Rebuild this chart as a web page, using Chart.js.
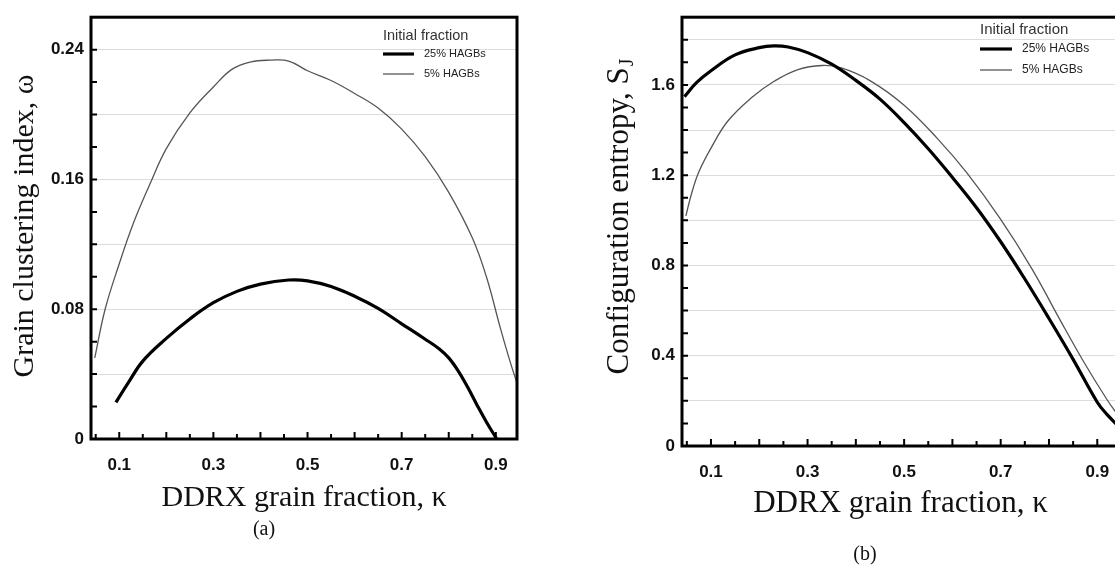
<!DOCTYPE html>
<html>
<head>
<meta charset="utf-8">
<script src="https://cdn.jsdelivr.net/npm/chart.js"></script>
<style>
  html, body { margin: 0; padding: 0; background: #fff; overflow: hidden; width: 1115px; height: 569px; }
  .panel { position: absolute; top: 0; }
  #wrapA { left: 0; }
  #wrapB { left: 580px; }
</style>
</head>
<body>
<div class="panel" id="wrapA"><canvas id="chartA" width="560" height="569"></canvas></div>
<div class="panel" id="wrapB"><canvas id="chartB" width="560" height="569"></canvas></div>
<script>
// (a) grain clustering index vs DDRX grain fraction
const fracA25 = [0.093, 0.12, 0.15, 0.20, 0.25, 0.30, 0.35, 0.40, 0.46, 0.50, 0.55, 0.60, 0.65, 0.70, 0.75, 0.78, 0.80, 0.82, 0.84, 0.86, 0.88, 0.902];
const omega25 = [0.0226, 0.035, 0.048, 0.062, 0.074, 0.084, 0.091, 0.0955, 0.098, 0.0975, 0.094, 0.088, 0.0805, 0.071, 0.0615, 0.0555, 0.050, 0.042, 0.032, 0.021, 0.0105, 0];
const fracA5 = [0.048, 0.07, 0.10, 0.13, 0.165, 0.20, 0.25, 0.30, 0.34, 0.38, 0.42, 0.46, 0.50, 0.55, 0.60, 0.65, 0.70, 0.75, 0.80, 0.85, 0.88, 0.91, 0.93, 0.95];
const omega5 = [0.050, 0.080, 0.108, 0.133, 0.157, 0.179, 0.201, 0.217, 0.228, 0.2325, 0.2335, 0.233, 0.227, 0.221, 0.213, 0.204, 0.191, 0.174, 0.152, 0.124, 0.100, 0.068, 0.048, 0.030];

// (b) configuration entropy vs DDRX grain fraction
const fracB25 = [0.045, 0.07, 0.10, 0.15, 0.20, 0.23, 0.26, 0.30, 0.35, 0.40, 0.45, 0.50, 0.55, 0.60, 0.65, 0.70, 0.75, 0.80, 0.85, 0.90, 0.92, 0.945];
const entropy25 = [1.548, 1.61, 1.663, 1.733, 1.765, 1.773, 1.768, 1.743, 1.692, 1.62, 1.537, 1.433, 1.317, 1.19, 1.056, 0.905, 0.74, 0.565, 0.384, 0.194, 0.14, 0.085];
const fracB5 = [0.048, 0.06, 0.075, 0.10, 0.135, 0.185, 0.23, 0.28, 0.33, 0.37, 0.43, 0.50, 0.57, 0.63, 0.70, 0.765, 0.82, 0.87, 0.92, 0.945];
const entropy5 = [1.02, 1.12, 1.215, 1.32, 1.44, 1.545, 1.615, 1.668, 1.686, 1.675, 1.618, 1.51, 1.36, 1.21, 1.004, 0.784, 0.57, 0.38, 0.206, 0.13];

// ticks
const xLabels = [0.1, 0.3, 0.5, 0.7, 0.9];
const xMajor = [0.1, 0.2, 0.3, 0.4, 0.5, 0.6, 0.7, 0.8, 0.9];
const xMinor = [0.05, 0.15, 0.25, 0.35, 0.45, 0.55, 0.65, 0.75, 0.85];
const gridA = [0, 0.04, 0.08, 0.12, 0.16, 0.2, 0.24];
const labelsA = [0, 0.08, 0.16, 0.24];
const minorA = [0.02, 0.06, 0.1, 0.14, 0.18, 0.22];
const gridB = [0, 0.2, 0.4, 0.6, 0.8, 1.0, 1.2, 1.4, 1.6, 1.8];
const labelsB = [0, 0.4, 0.8, 1.2, 1.6];
const minorB = [0.1, 0.3, 0.5, 0.7, 0.9, 1.1, 1.3, 1.5, 1.7];

const legendTitle = "Initial fraction";
const seriesNames = ["25% HAGBs", "5% HAGBs"];

const zip = (xs, ys) => xs.map((x, i) => ({ x: x, y: ys[i] }));

const decoPlugin = {
  id: 'deco',
  afterDraw(chart, args, o) {
    const { ctx, chartArea: a, scales: { x, y } } = chart;
    ctx.save();
    ctx.strokeStyle = '#000';
    ctx.lineWidth = 2;
    ctx.beginPath();
    xMajor.forEach(v => { const p = x.getPixelForValue(v); ctx.moveTo(p, a.bottom); ctx.lineTo(p, a.bottom - 7); });
    xMinor.forEach(v => { const p = x.getPixelForValue(v); ctx.moveTo(p, a.bottom); ctx.lineTo(p, a.bottom - 5); });
    o.yTicks.concat(o.yMinor).forEach(v => { const p = y.getPixelForValue(v); ctx.moveTo(a.left, p); ctx.lineTo(a.left + 6, p); });
    ctx.stroke();

    ctx.lineWidth = 3;
    ctx.strokeRect(a.left, a.top, a.right - a.left, a.bottom - a.top);

    // legend
    const L = o.legend;
    ctx.font = L.titleSize + 'px "Liberation Sans", Arial, sans-serif';
    ctx.textBaseline = 'middle';
    ctx.textAlign = 'left';
    const tw = ctx.measureText(legendTitle).width;
    if (L.bg) { ctx.fillStyle = '#fff'; ctx.fillRect(L.x - 2, L.titleY - 9, tw + 4, 18); }
    ctx.fillStyle = '#333';
    ctx.fillText(legendTitle, L.x, L.titleY);
    [3.2, 1.3].forEach((w, i) => {
      ctx.strokeStyle = i === 0 ? '#000' : '#555';
      ctx.lineWidth = w;
      ctx.beginPath();
      ctx.moveTo(L.x, L.rows[i]); ctx.lineTo(L.x + L.len, L.rows[i]);
      ctx.stroke();
      ctx.fillStyle = '#222';
      ctx.font = L.textSize + 'px "Liberation Sans", Arial, sans-serif';
      ctx.fillText(seriesNames[i], L.x + L.len + 10, L.rows[i]);
    });

    // axis titles
    const serif = '"Liberation Serif", "Times New Roman", serif';
    ctx.fillStyle = '#111';
    ctx.textAlign = 'center';
    ctx.font = o.titleSize + 'px ' + serif;
    ctx.fillText("DDRX grain fraction, \u03ba", (a.left + a.right) / 2, o.xTitleY);

    ctx.save();
    ctx.translate(o.yTitleX, o.yTitleY);
    ctx.rotate(-Math.PI / 2);
    ctx.textAlign = 'left';
    const w1 = ctx.measureText(o.yTitle).width;
    let w2 = 0;
    if (o.ySub) { ctx.font = '20px ' + serif; w2 = ctx.measureText(o.ySub).width; }
    ctx.font = o.titleSize + 'px ' + serif;
    const start = -(w1 + w2) / 2;
    ctx.fillText(o.yTitle, start, 0);
    if (o.ySub) { ctx.font = '20px ' + serif; ctx.fillText(o.ySub, start + w1 + 1, 8); }
    ctx.restore();

    ctx.font = '20px ' + serif;
    ctx.textAlign = 'center';
    ctx.fillText(o.panel, o.panelX, o.panelY);
    ctx.restore();
  }
};

function makeChart(id, sets, yMax, grid, labels, yWidth, pad, decoOpts) {
  return new Chart(document.getElementById(id), {
    type: 'line',
    data: {
      datasets: [
        { label: seriesNames[0], data: sets[0], borderColor: '#000', borderWidth: 3.2 },
        { label: seriesNames[1], data: sets[1], borderColor: '#555', borderWidth: 1.3 }
      ]
    },
    options: {
      responsive: false,
      animation: false,
      elements: { point: { radius: 0 }, line: { tension: 0.4 } },
      layout: { padding: pad },
      plugins: { legend: { display: false }, tooltip: { enabled: false }, deco: decoOpts },
      scales: {
        x: {
          type: 'linear', min: 0.04, max: 0.945,
          grid: { display: false }, border: { display: false },
          afterBuildTicks: s => { s.ticks = xLabels.map(v => ({ value: v })); },
          afterFit: s => { s.height = 50; },
          ticks: { padding: 8, color: '#111', font: { family: '"Liberation Sans", Arial, sans-serif', weight: 'bold', size: 17 },
                   callback: v => String(v), maxRotation: 0 }
        },
        y: {
          type: 'linear', min: 0, max: yMax,
          grid: { color: '#dcdcdc', lineWidth: 1, drawTicks: false }, border: { display: false },
          afterBuildTicks: s => { s.ticks = grid.map(v => ({ value: v })); },
          afterFit: s => { s.width = yWidth; },
          ticks: { padding: 7, color: '#111', font: { family: '"Liberation Sans", Arial, sans-serif', weight: 'bold', size: 17 },
                   callback: v => labels.includes(v) ? String(v) : '' }
        }
      }
    },
    plugins: [decoPlugin]
  });
}

makeChart('chartA', [zip(fracA25, omega25), zip(fracA5, omega5)], 0.26, gridA, labelsA, 91,
  { top: 13, left: 0, right: 43, bottom: 80 },
  { yTicks: gridA, yMinor: minorA, titleSize: 30, xTitleY: 498, yTitle: "Grain clustering index, \u03c9", ySub: '', yTitleX: 25, yTitleY: 226,
    panel: '(a)', panelX: 264, panelY: 530,
    legend: { x: 383, titleY: 36, rows: [54, 74], len: 31, titleSize: 14.5, textSize: 11, bg: false } });

makeChart('chartB', [zip(fracB25, entropy25), zip(fracB5, entropy5)], 1.9, gridB, labelsB, 102,
  { top: 6, left: 0, right: 21, bottom: 73 },
  { yTicks: gridB, yMinor: minorB, titleSize: 31, xTitleY: 504, yTitle: "Configuration entropy, S", ySub: 'J', yTitleX: 40, yTitleY: 217,
    panel: '(b)', panelX: 285, panelY: 555,
    legend: { x: 400, titleY: 30, rows: [49, 70], len: 32, titleSize: 15, textSize: 12, bg: true } });
</script>
</body>
</html>
